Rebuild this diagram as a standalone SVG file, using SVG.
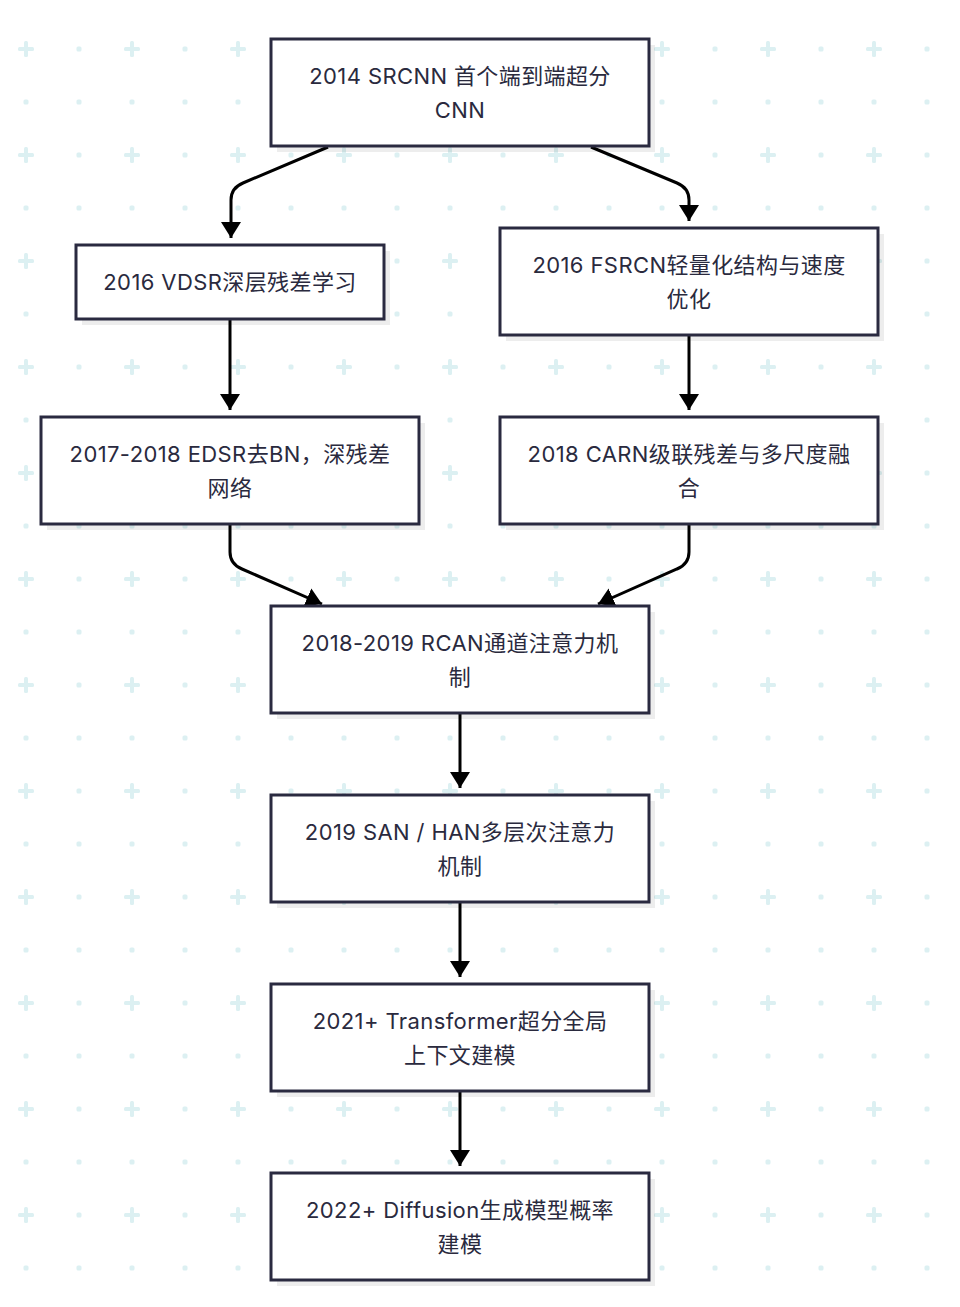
<svg xmlns="http://www.w3.org/2000/svg" width="960" height="1307" viewBox="0 0 960 1307">
<defs>
<pattern id="bg" x="0" y="0" width="106" height="106" patternUnits="userSpaceOnUse">
<rect x="18" y="47" width="16" height="4" rx="1.5" fill="#dcf0f2"/>
<rect x="24" y="41" width="4" height="16" rx="1.5" fill="#dcf0f2"/>
<rect x="76.5" y="46.5" width="5" height="5" rx="1.5" fill="#dcf0f2"/>
<rect x="23.5" y="99.5" width="5" height="5" rx="1.5" fill="#dcf0f2"/>
<rect x="76.5" y="99.5" width="5" height="5" rx="1.5" fill="#dcf0f2"/>
</pattern>
<marker id="arr" viewBox="0 0 16 20" refX="16" refY="10" markerWidth="16" markerHeight="20" markerUnits="userSpaceOnUse" orient="auto">
<path d="M0,0 L16,10 L0,20 z" fill="#000"/>
</marker>
<style>
.shadow{fill:#000;opacity:0.07}
.box{fill:#fff;stroke:#2a2a40;stroke-width:3}
.lbl{font-family:Inter,"Noto Sans CJK SC",sans-serif;font-size:22px;letter-spacing:0.4px;fill:#2a2a3e;text-anchor:middle}
.edge{fill:none;stroke:#000;stroke-width:3;marker-end:url(#arr)}
</style>
</defs>
<rect width="960" height="1307" fill="#fff"/>
<rect width="960" height="1307" fill="url(#bg)"/>
<g id="connectors">
<path class="edge" d="M328,147 L243,183 Q231,188 231,200 L231,238"/>
<path class="edge" d="M591,147 L677,183 Q689,188 689,200 L689,221"/>
<path class="edge" d="M230,320 L230,410"/>
<path class="edge" d="M689,336 L689,410"/>
<path class="edge" d="M230,525 L230,552 Q230,564 242,569 L322,604"/>
<path class="edge" d="M689,525 L689,552 Q689,564 677,569 L598,604"/>
<path class="edge" d="M460,714 L460,788"/>
<path class="edge" d="M460,903 L460,977"/>
<path class="edge" d="M460,1092 L460,1166"/>
</g>
<g id="n1">
<rect class="shadow" x="277" y="45" width="378" height="107"/>
<rect class="box" x="271" y="39" width="378" height="107"/>
<text class="lbl" x="460" y="84">2014 SRCNN 首个端到端超分</text>
<text class="lbl" x="460" y="118">CNN</text>
</g>
<g id="n2">
<rect class="shadow" x="82" y="251" width="308" height="74"/>
<rect class="box" x="76" y="245" width="308" height="74"/>
<text class="lbl" x="230" y="290">2016 VDSR深层残差学习</text>
</g>
<g id="n3">
<rect class="shadow" x="506" y="234" width="378" height="107"/>
<rect class="box" x="500" y="228" width="378" height="107"/>
<text class="lbl" x="689" y="273">2016 FSRCN轻量化结构与速度</text>
<text class="lbl" x="689" y="307">优化</text>
</g>
<g id="n4">
<rect class="shadow" x="47" y="423" width="378" height="107"/>
<rect class="box" x="41" y="417" width="378" height="107"/>
<text class="lbl" x="230" y="462">2017-2018 EDSR去BN，深残差</text>
<text class="lbl" x="230" y="496">网络</text>
</g>
<g id="n5">
<rect class="shadow" x="506" y="423" width="378" height="107"/>
<rect class="box" x="500" y="417" width="378" height="107"/>
<text class="lbl" x="689" y="462">2018 CARN级联残差与多尺度融</text>
<text class="lbl" x="689" y="496">合</text>
</g>
<g id="n6">
<rect class="shadow" x="277" y="612" width="378" height="107"/>
<rect class="box" x="271" y="606" width="378" height="107"/>
<text class="lbl" x="460" y="651">2018-2019 RCAN通道注意力机</text>
<text class="lbl" x="460" y="685">制</text>
</g>
<g id="n7">
<rect class="shadow" x="277" y="801" width="378" height="107"/>
<rect class="box" x="271" y="795" width="378" height="107"/>
<text class="lbl" x="460" y="840">2019 SAN / HAN多层次注意力</text>
<text class="lbl" x="460" y="874">机制</text>
</g>
<g id="n8">
<rect class="shadow" x="277" y="990" width="378" height="107"/>
<rect class="box" x="271" y="984" width="378" height="107"/>
<text class="lbl" x="460" y="1029">2021+ Transformer超分全局</text>
<text class="lbl" x="460" y="1063">上下文建模</text>
</g>
<g id="n9">
<rect class="shadow" x="277" y="1179" width="378" height="107"/>
<rect class="box" x="271" y="1173" width="378" height="107"/>
<text class="lbl" x="460" y="1218">2022+ Diffusion生成模型概率</text>
<text class="lbl" x="460" y="1252">建模</text>
</g>
</svg>
